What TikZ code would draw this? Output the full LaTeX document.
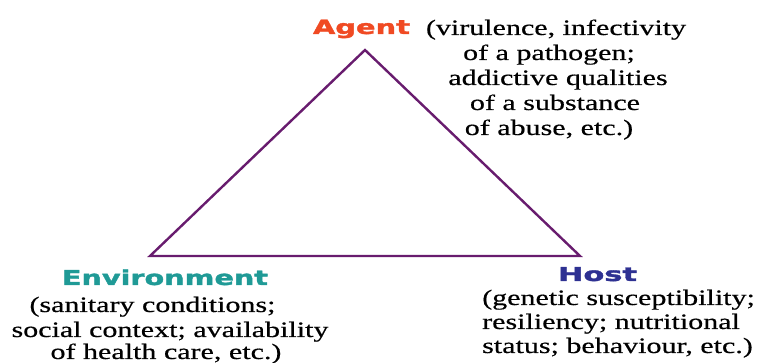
\documentclass[tikz,border=0pt]{standalone}
\usepackage{fontspec}
\usepackage{graphicx}
\newfontfamily\descfont{Liberation Serif}[FakeStretch=1.365, FakeBold=0.5]
\newfontfamily\labfont{DejaVu Sans}[BoldFeatures={FakeBold=1.5}]
\definecolor{agentcol}{HTML}{F04A23}
\definecolor{envcol}{HTML}{1F9A96}
\definecolor{hostcol}{HTML}{2E3192}
\definecolor{edgecol}{HTML}{681C6E}
\tikzset{
  edge/.style={draw=edgecol, line width=2.4pt, line join=miter},
  desc/.style={inner sep=0pt, font=\descfont\fontsize{22}{25}\selectfont},
  labnode/.style={inner sep=0pt, anchor=base}
}
% \lab{width}{height}{colour}{text}: a heavy sans label scaled to a box
\newcommand\lab[4]{\resizebox{#1pt}{#2pt}{\labfont\bfseries\color{#3}#4}}
\begin{document}
\begin{tikzpicture}[x=1pt,y=-1pt]
\useasboundingbox (0,0) rectangle (758,363);
% the triangle
\coordinate (apex)  at (365,50);
\coordinate (left)  at (150,256);
\coordinate (right) at (580,256);
\draw[edge] (apex) -- (right) -- (left) -- cycle;

% Agent
\node[labnode] (agent) at (361.5,34) {\lab{97}{14.3}{agentcol}{Agent}};
\node[desc, anchor=base] (ag1) at (556,35)  {(virulence, infectivity};
\node[desc, anchor=base] (ag2) at (549,60)  {of a pathogen;};
\node[desc, anchor=base] (ag3) at (558,85)  {addictive qualities};
\node[desc, anchor=base] (ag4) at (555,110) {of a substance};
\node[desc, anchor=base] (ag5) at (549,135) {of abuse, etc.)};

% Environment
\node[labnode] (env) at (165,285) {\lab{206}{15.5}{envcol}{Environment}};
\node[desc, anchor=base] (en1) at (152.5,312) {(sanitary conditions;};
\node[desc, anchor=base] (en2) at (170,337)   {social context; availability};
\node[desc, anchor=base] (en3) at (166,359)   {of health care, etc.)};

% Host
\node[labnode] (host) at (597.5,281) {\lab{79}{14}{hostcol}{Host}};
\node[desc, anchor=base west] (ho1) at (482,305) {(genetic susceptibility;};
\node[desc, anchor=base west] (ho2) at (482,329) {resiliency; nutritional};
\node[desc, anchor=base west] (ho3) at (482,353) {status; behaviour, etc.)};
\end{tikzpicture}
\end{document}
